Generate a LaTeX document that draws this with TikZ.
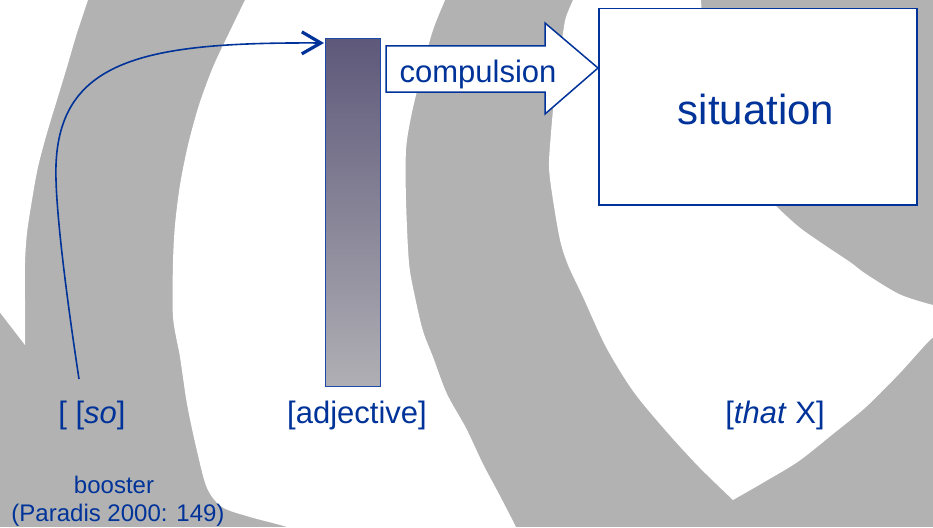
\documentclass[tikz,border=0pt]{standalone}
\usepackage{fontspec}
\setmainfont{Liberation Sans}
\usetikzlibrary{arrows.meta,calc}
\definecolor{tblue}{RGB}{0,51,153}
\definecolor{barline}{RGB}{30,75,165}
\definecolor{bggray}{RGB}{178,178,178}
\definecolor{bartop}{RGB}{94,88,122}
\definecolor{barbot}{RGB}{176,175,180}
\begin{document}
\begin{tikzpicture}[x=1pt,y=-1pt,
  lbl/.style={text=tblue, inner sep=0pt, anchor=base, font=\fontsize{31}{37}\selectfont},
  small/.style={text=tblue, inner sep=0pt, anchor=base, font=\fontsize{24}{29}\selectfont},
  bline/.style={draw=tblue, line width=1.5pt},
]
\useasboundingbox (0,0) rectangle (933,527);
\fill[bggray] (0,0) rectangle (933,527);
\begin{scope}
\clip (0,0) rectangle (933,527);
\fill[white] (-5,-5) -- (88,-5) -- plot[smooth] coordinates {(88,0) (77,33) (67,67) (57,100) (47,133) (38,167) (32,200) (27,233) (25,263) (25,300) (25,345)} -- (-5,306) -- cycle;
\fill[white] (245,-5) -- plot[smooth] coordinates {(245,0) (229,33) (213,67) (199,105) (188,145) (180,185) (175,225) (173,263) (173,317) (180,357) (187,404) (197,451) (207,488) (222,507) (250,517) (287,527) (300,535)} -- plot[smooth] coordinates {(520,535) (516,527) (499,494) (483,464) (466,428) (447,394) (433,357) (423,331) (415,297) (409,263) (406,200) (406,150) (411,117) (419,83) (432,33) (445,0) (447,-5)} -- cycle;
\fill[white] plot[smooth] coordinates {(575,-5) (573,0) (566,17) (563,33) (558,67) (554,100) (551,133) (549,167) (553,200) (560,240) (568,265) (583,297) (606,347) (633,391) (666,431) (699,467) (733,500)} -- plot[smooth] coordinates {(733,500) (766,481) (799,461) (833,434) (866,407) (899,374) (929,341) (940,333)} -- plot[smooth] coordinates {(940,306) (929,304) (899,294) (866,274) (850,262) (826,246) (799,227) (773,203) (753,180) (735,153) (720,127) (712,100) (706,67) (703,33) (701,0) (701,-5)} -- cycle;
\end{scope}

% adjective bar
\node[draw=barline, line width=1.4pt, top color=bartop, bottom color=barbot, minimum width=55pt, minimum height=348pt, inner sep=0pt, anchor=north west] (bar) at (325,38) {};

% situation box
\node[bline, fill=white, minimum width=318pt, minimum height=196pt, inner sep=0pt, anchor=north west] (sit) at (598,8) {};
\node[lbl, font=\fontsize{42}{50}\selectfont] (sittext) at (756,124) {situation};

% compulsion block arrow
\draw[bline, fill=white, line join=miter] (386,46) -- (545,46) -- (545,23) -- (598,68) -- (545,114) -- (545,92) -- (386,92) -- cycle;
\node[lbl] (comp) at (478,82) {compulsion};

% labels
\node[lbl] (so) at (92,423) {[ [\textit{so}]};
\node[lbl] (adj) at (357,423) {[adjective]};
\node[lbl] (that) at (775,423) {[\textit{that} X]};
\node[small] (booster) at (114,493) {booster};
\node[small] (paradis) at (118,521) {(Paradis 2000: 149)};

% curved connector
\coordinate (sostart) at (79,379);
\draw[draw=tblue, line width=1.6pt, -{Straight Barb[length=19pt,width=22pt,line width=3.2pt]}]
  (sostart) .. controls (64,280) and (57,215) .. (56,180)
  .. controls (52,60) and (140,42) .. ($(bar.north west)+(-1,5)$);
\end{tikzpicture}
\end{document}
